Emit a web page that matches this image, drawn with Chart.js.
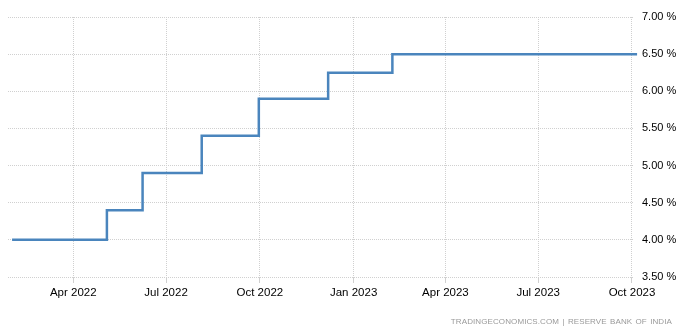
<!DOCTYPE html>
<html>
<head>
<meta charset="utf-8">
<script src="https://cdn.jsdelivr.net/npm/chart.js@4.4.0/dist/chart.umd.min.js"></script>
<style>
  html, body { margin: 0; padding: 0; background: #fff; }
  #wrap { position: relative; width: 690px; height: 334px; }
  #footer {
    position: absolute; right: 18px; top: 317px;
    font-family: "Liberation Sans", Arial, sans-serif; font-size: 8px;
    color: #999; white-space: nowrap; word-spacing: 1px; letter-spacing: 0.1px;
  }
</style>
</head>
<body>
<div id="wrap">
  <canvas id="c" width="690" height="334"></canvas>
  <div id="footer">TRADINGECONOMICS.COM | RESERVE BANK OF INDIA</div>
</div>
<script>
// repo rate changes (step dates) and values in %
const rateDates = ['2022-01-31', '2022-05-04', '2022-06-08', '2022-08-05', '2022-09-30', '2022-12-07', '2023-02-08', '2023-10-06'];
const rateValues = [4.00, 4.40, 4.90, 5.40, 5.90, 6.25, 6.50, 6.50];
const tickDates = ['2022-04-01', '2022-07-01', '2022-10-01', '2023-01-01', '2023-04-01', '2023-07-01', '2023-10-01'];
const tickLabels = ['Apr 2022', 'Jul 2022', 'Oct 2022', 'Jan 2023', 'Apr 2023', 'Jul 2023', 'Oct 2023'];

const toMs = s => Date.parse(s + 'T00:00:00Z');
const tickMs = tickDates.map(toMs);

const points = rateDates.map((d, i) => ({ x: toMs(d), y: rateValues[i] }));

new Chart(document.getElementById('c'), {
  type: 'line',
  data: {
    datasets: [{
      data: points,
      stepped: true,
      borderColor: '#4a85bd',
      borderWidth: 2.5,
      pointRadius: 0,
      fill: false,
      clip: false
    }]
  },
  options: {
    responsive: false,
    animation: false,
    layout: { padding: { left: 8, top: 17, right: 0, bottom: 0 } },
    plugins: { legend: { display: false }, tooltip: { enabled: false } },
    scales: {
      x: {
        type: 'linear',
        min: toMs('2022-01-27'),
        max: toMs('2023-10-02'),
        afterBuildTicks: s => { s.ticks = tickMs.map(v => ({ value: v })); },
        afterFit: s => { s.height = 57; },
        border: { display: false, dash: [1, 1] },
        grid: {
          color: '#d0d0d0',
          tickLength: 6,
          tickColor: '#d0d0d0',
          tickBorderDash: []
        },
        ticks: {
          autoSkip: false,
          maxRotation: 0,
          padding: 3,
          color: '#000',
          font: { family: '"Liberation Sans", Arial, sans-serif', size: 11.5 },
          callback: v => tickLabels[tickMs.indexOf(v)]
        }
      },
      y: {
        position: 'right',
        min: 3.5,
        max: 7.0,
        afterFit: s => { s.width = 57; },
        border: { display: false, dash: [1, 1] },
        grid: {
          color: '#d0d0d0',
          drawTicks: false
        },
        ticks: {
          stepSize: 0.5,
          padding: 9,
          color: '#000',
          font: { family: '"Liberation Sans", Arial, sans-serif', size: 11 },
          callback: v => v.toFixed(2) + ' %'
        }
      }
    }
  }
});
</script>
</body>
</html>
